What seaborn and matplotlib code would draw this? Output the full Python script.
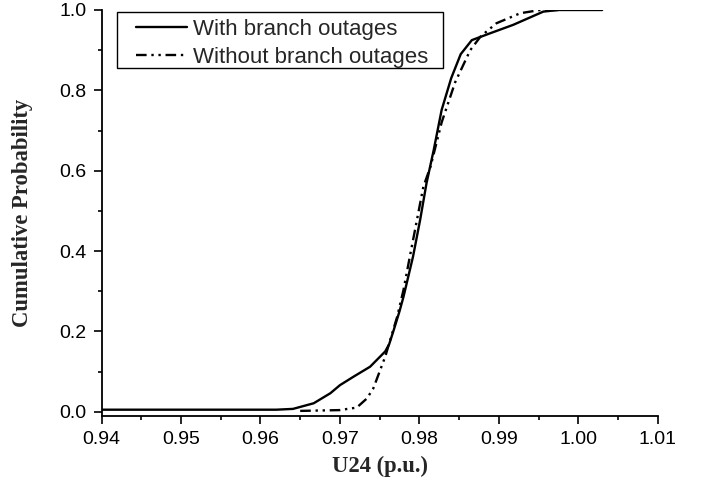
import matplotlib
matplotlib.use("Agg")
import matplotlib.pyplot as plt
import seaborn as sns
import numpy as np
from matplotlib.ticker import MultipleLocator, FormatStrFormatter

# ---- data ----
with_x = [0.940, 0.955, 0.9620, 0.9641, 0.9667, 0.9688, 0.9700, 0.9717, 0.9738,
          0.9751, 0.9757, 0.9762, 0.9768, 0.9775, 0.9780, 0.9792, 0.9801, 0.9809,
          0.9818, 0.9828, 0.9840, 0.9852, 0.9866, 0.9889, 0.9918, 0.9956, 0.9975,
          1.003]
with_y = [0.005, 0.005, 0.005, 0.007, 0.021, 0.046, 0.066, 0.087, 0.112,
          0.138, 0.150, 0.168, 0.205, 0.250, 0.286, 0.386, 0.478, 0.569,
          0.651, 0.751, 0.830, 0.890, 0.925, 0.942, 0.963, 0.996, 1.000,
          1.000]

without_x = [0.9650, 0.9700, 0.9713, 0.9721, 0.9734, 0.9742, 0.9746, 0.9757,
             0.9772, 0.9780, 0.9788, 0.9797, 0.9805, 0.9814, 0.9828, 0.9845,
             0.9864, 0.9877, 0.9897, 0.9927, 0.9952, 0.9975]
without_y = [0.002, 0.004, 0.008, 0.010, 0.033, 0.058, 0.079, 0.137,
             0.236, 0.303, 0.386, 0.478, 0.560, 0.610, 0.720, 0.820,
             0.900, 0.934, 0.967, 0.992, 1.000, 1.000]

series_labels = ["With branch outages", "Without branch outages"]
x_label = "U24 (p.u.)"
y_label = "Cumulative Probability"

sns.set_style("ticks")
plt.rcParams['font.family'] = ['Liberation Sans', 'DejaVu Sans']

fig = plt.figure(figsize=(7.05, 4.83), dpi=100)
ax = fig.add_axes([0.144, 0.1393, 0.789, 0.840])

sns.lineplot(x=with_x, y=with_y, ax=ax, color='black', linewidth=1.7,
             label=series_labels[0], sort=False, estimator=None)
sns.lineplot(x=without_x, y=without_y, ax=ax, color='black', linewidth=1.7,
             linestyle=(0, (4.5, 2, 1, 2, 1, 2)),
             label=series_labels[1], sort=False, estimator=None)

ax.set_xlim(0.94, 1.01)
ax.set_ylim(-0.01, 1.0)
ax.xaxis.set_major_locator(MultipleLocator(0.01))
ax.xaxis.set_minor_locator(MultipleLocator(0.005))
ax.yaxis.set_major_locator(MultipleLocator(0.2))
ax.yaxis.set_minor_locator(MultipleLocator(0.1))
ax.xaxis.set_major_formatter(FormatStrFormatter('%.2f'))
ax.yaxis.set_major_formatter(FormatStrFormatter('%.1f'))

for side in ['top', 'right']:
    ax.spines[side].set_visible(False)
for side in ['left', 'bottom']:
    ax.spines[side].set_linewidth(1.3)
    ax.spines[side].set_color('black')

ax.tick_params(which='major', direction='out', length=6, width=1.2, pad=5,
               labelsize=14, colors='black')
ax.tick_params(which='minor', direction='out', length=3, width=1.2, colors='black')

ax.set_xlabel(x_label, family='Liberation Serif', fontweight='bold', fontsize=16.3, labelpad=5.5)
ax.set_ylabel(y_label, family='Liberation Serif', fontweight='bold', fontsize=16.3, labelpad=19)

leg = ax.legend(loc='upper left', bbox_to_anchor=(0.0494, 0.995), borderaxespad=0,
                fontsize=16, frameon=True, fancybox=False, framealpha=1,
                edgecolor='black', handlelength=2.3, handletextpad=0.27,
                borderpad=0.3, labelspacing=0.32)
frame = leg.get_frame()
frame.set_linewidth(1.0)

# widen the legend frame horizontally (reference has wider side padding)
_orig_set_bounds = frame.set_bounds
def _wide_bounds(*args):
    if len(args) == 1:
        x, y, w, h = args[0]
    else:
        x, y, w, h = args
    _orig_set_bounds(x - 12, y + 6, w + 20, h - 6)
frame.set_bounds = _wide_bounds

fig.savefig("out.png", dpi=100)
